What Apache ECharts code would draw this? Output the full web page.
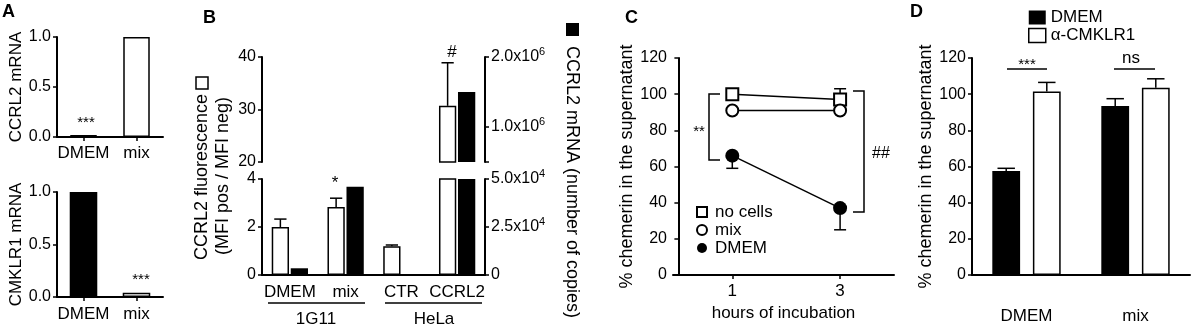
<!DOCTYPE html>
<html>
<head>
<meta charset="utf-8">
<script src="https://cdn.jsdelivr.net/npm/echarts@6/dist/echarts.min.js"></script>
<style>
html, body { margin: 0; padding: 0; background: #fff; }
#chart { width: 1192px; height: 328px; }
</style>
</head>
<body>
<div id="chart"></div>
<script>
// A - relative mRNA
var aCats = ['DMEM', 'mix'];
var aCcrl2 = [0.02, 1.0];
var aCmklr1 = [1.0, 0.04];
// B - CCRL2 fluorescence (left axis) and mRNA copies (right axis)
var bCats = ['DMEM', 'mix', 'CTR', 'CCRL2'];
var bFluo = [2.0, 2.83, 1.2, 30.7];
var bFluoErr = [0.33, 0.37, 0.05, 8.2];
var bMrna = [3500, 46000, 0, 1500000];
// C - chemerin over time
var cHours = [1, 3];
var cNoCells = [100, 97];
var cNoCellsErr = [1, 6];
var cMix = [91, 91];
var cDmem = [66, 37];
var cDmemErr = [7, 12];
// D - chemerin with / without antibody
var dCats = ['DMEM', 'mix'];
var dDmem = [57.5, 93.5];
var dDmemErr = [1.5, 4];
var dAnti = [101.5, 103.5];
var dAntiErr = [5, 5];

var FONT = 'Liberation Sans, Arial, sans-serif';
var BLACK = { color: '#000' };
var WHITE = { color: '#fff', borderColor: '#000', borderWidth: 1.5 };

var myChart = echarts.init(document.getElementById('chart'));

function axisLine() { return { show: true, lineStyle: { color: '#000', width: 2 } }; }
function ticks() { return { show: true, length: 4, lineStyle: { color: '#000', width: 1.5 } }; }
function labels(extra) {
    var o = { color: '#000', fontSize: 16, fontFamily: FONT, margin: 6 };
    for (var k in extra) o[k] = extra[k];
    return o;
}
function sci(v) {
    if (v === 0) return '0';
    var e = Math.floor(Math.log10(v));
    var m = v / Math.pow(10, e);
    return '{a|' + m.toFixed(1) + 'x10}{s|' + e + '}';
}
var sciRich = {
    a: { fontSize: 16, fontFamily: FONT, color: '#000', lineHeight: 22 },
    s: { fontSize: 11, fontFamily: FONT, color: '#000', lineHeight: 11, verticalAlign: 'top' }
};

//误差线
function errorBar(offset, capRatio, capPx) {
    return function (params, api) {
        var base = api.coord([api.value(0), api.value(1)]);
        var end = api.coord([api.value(0), api.value(2)]);
        var band = capPx ? 0 : api.size([1, 0])[0];
        var x = base[0] + offset * band;
        var half = (capPx || capRatio * band) / 2;
        var st = { stroke: '#000', lineWidth: 1.5 };
        return {
            type: 'group',
            children: [
                { type: 'line', shape: { x1: x, y1: base[1], x2: x, y2: end[1] }, style: st },
                { type: 'line', shape: { x1: x - half, y1: end[1], x2: x + half, y2: end[1] }, style: st }
            ]
        };
    };
}

function txt(s, x, y, size, opt) {
    opt = opt || {};
    return {
        type: 'text', x: x, y: y, rotation: opt.rot || 0, z: 10,
        style: {
            text: s, fill: '#000', align: opt.align || 'center', verticalAlign: 'middle',
            font: (opt.bold ? 'bold ' : '') + size + 'px ' + FONT
        }
    };
}
function poly(points) {
    return { type: 'polyline', z: 10, shape: { points: points }, style: { stroke: '#000', lineWidth: 1.5, fill: null } };
}

var bOff = 0.31 * 1.1 / 2;
var dOff = 0.255 * 1.46 / 2;

var option = {
    animation: false,
    grid: [
        { left: 57, top: 37, width: 106, height: 100 },
        { left: 57, top: 192, width: 106, height: 105 },
        { left: 262, top: 57, width: 223, height: 105 },
        { left: 262, top: 179, width: 223, height: 96 },
        { left: 673, top: 58, width: 221, height: 217 },
        { left: 972, top: 58, width: 218, height: 217 }
    ],
    xAxis: [
        { type: 'category', gridIndex: 0, data: aCats, axisLine: axisLine(),
          axisTick: { show: true, alignWithLabel: true, length: 4, lineStyle: { color: '#000', width: 1.5 } },
          axisLabel: labels({ fontSize: 17, margin: 8, interval: 0 }) },
        { type: 'category', gridIndex: 1, data: aCats, axisLine: axisLine(),
          axisTick: { show: true, alignWithLabel: true, length: 4, lineStyle: { color: '#000', width: 1.5 } },
          axisLabel: labels({ fontSize: 17, margin: 9, interval: 0 }) },
        { type: 'category', gridIndex: 2, data: bCats, axisLine: { show: false }, axisTick: { show: false }, axisLabel: { show: false } },
        { type: 'category', gridIndex: 3, data: bCats, axisLine: axisLine(), axisTick: { show: false },
          axisLabel: labels({ fontSize: 17, margin: 9, interval: 0 }) },
        { type: 'value', gridIndex: 4, min: -0.1, max: 4, splitLine: { show: false }, axisLine: axisLine(),
          axisTick: { show: true, length: 4, customValues: cHours, lineStyle: { color: '#000', width: 1.5 } },
          axisLabel: labels({ fontSize: 17, margin: 8, customValues: cHours }),
          name: 'hours of incubation', nameLocation: 'middle', nameGap: 26,
          nameTextStyle: { color: '#000', fontSize: 17, fontFamily: FONT } },
        { type: 'category', gridIndex: 5, data: dCats, axisLine: axisLine(), axisTick: { show: false },
          axisLabel: labels({ fontSize: 17, margin: 33, interval: 0 }) }
    ],
    yAxis: [
        { type: 'value', gridIndex: 0, min: 0, max: 1, interval: 0.5, splitLine: { show: false },
          axisLine: axisLine(), axisTick: ticks(),
          axisLabel: labels({ formatter: function (v) { return v.toFixed(1); } }),
          name: 'CCRL2 mRNA', nameLocation: 'middle', nameGap: 29,
          nameTextStyle: { color: '#000', fontSize: 17, fontFamily: FONT } },
        { type: 'value', gridIndex: 1, min: 0, max: 1, interval: 0.5, splitLine: { show: false },
          axisLine: axisLine(), axisTick: ticks(),
          axisLabel: labels({ formatter: function (v) { return v.toFixed(1); } }),
          name: 'CMKLR1 mRNA', nameLocation: 'middle', nameGap: 29,
          nameTextStyle: { color: '#000', fontSize: 17, fontFamily: FONT } },
        { type: 'value', gridIndex: 2, min: 20, max: 40, interval: 10, splitLine: { show: false },
          axisLine: axisLine(), axisTick: ticks(), axisLabel: labels({}) },
        { type: 'value', gridIndex: 2, position: 'right', min: 500000, max: 2000000, interval: 500000,
          splitLine: { show: false }, axisLine: axisLine(),
          axisTick: { show: true, length: 4, customValues: [500000, 1000000, 2000000], lineStyle: { color: '#000', width: 1.5 } },
          axisLabel: labels({ customValues: [1000000, 2000000], formatter: sci, rich: sciRich }) },
        { type: 'value', gridIndex: 3, min: 0, max: 4, interval: 2, splitLine: { show: false },
          axisLine: axisLine(), axisTick: ticks(), axisLabel: labels({}) },
        { type: 'value', gridIndex: 3, position: 'right', min: 0, max: 50000, interval: 25000,
          splitLine: { show: false }, axisLine: axisLine(), axisTick: ticks(),
          axisLabel: labels({ formatter: sci, rich: sciRich }) },
        { type: 'value', gridIndex: 4, min: 0, max: 120, interval: 20, splitLine: { show: false },
          axisLine: axisLine(), axisTick: ticks(), axisLabel: labels({}),
          name: '% chemerin in the supernatant', nameLocation: 'middle', nameGap: 28,
          nameTextStyle: { color: '#000', fontSize: 18, fontFamily: FONT } },
        { type: 'value', gridIndex: 5, min: 0, max: 120, interval: 20, splitLine: { show: false },
          axisLine: axisLine(), axisTick: ticks(), axisLabel: labels({}),
          name: '% chemerin in the supernatant', nameLocation: 'middle', nameGap: 32,
          nameTextStyle: { color: '#000', fontSize: 18, fontFamily: FONT } }
    ],
    legend: [
        { left: 691, top: 198, orient: 'vertical', itemWidth: 10, itemHeight: 10, itemGap: 0, selectedMode: false,
          textStyle: { color: '#000', fontSize: 17, fontFamily: FONT, lineHeight: 18, padding: [0, 0, 0, 3] },
          data: [
              { name: 'no cells', icon: 'rect', itemStyle: { color: '#fff', borderColor: '#000', borderWidth: 2 } },
              { name: 'mix', icon: 'circle', itemStyle: { color: '#fff', borderColor: '#000', borderWidth: 2 } },
              { name: 'DMEM', icon: 'circle', itemStyle: { color: '#000' } }
          ] },
        { left: 1023, top: 4, orient: 'vertical', itemWidth: 17, itemHeight: 14, itemGap: 1, selectedMode: false,
          textStyle: { color: '#000', fontSize: 17, fontFamily: FONT, lineHeight: 16 },
          data: [
              { name: 'DMEM', icon: 'rect', itemStyle: { color: '#000' } },
              { name: 'α-CMKLR1', icon: 'rect', itemStyle: { color: '#fff', borderColor: '#000', borderWidth: 1.5 } }
          ] }
    ],
    series: [
        // A
        { type: 'bar', name: 'A CCRL2', xAxisIndex: 0, yAxisIndex: 0, barWidth: '50%',
          data: aCcrl2.map(function (v, i) { return { value: v, itemStyle: i === 0 ? BLACK : WHITE }; }) },
        { type: 'bar', name: 'A CMKLR1', xAxisIndex: 1, yAxisIndex: 1, barWidth: '52%',
          data: aCmklr1.map(function (v, i) { return { value: v, itemStyle: i === 0 ? BLACK : WHITE }; }) },
        // B upper part of broken axis
        { type: 'bar', name: 'B fluo hi', xAxisIndex: 2, yAxisIndex: 2, barWidth: '31%', barGap: '10%', itemStyle: WHITE,
          data: bFluo.map(function (v) { return v > 20 ? v : '-'; }) },
        { type: 'bar', name: 'B mrna hi', xAxisIndex: 2, yAxisIndex: 3, barWidth: '31%', barGap: '10%', itemStyle: BLACK,
          data: bMrna.map(function (v) { return v > 500000 ? v : '-'; }) },
        { type: 'custom', name: 'B err hi', xAxisIndex: 2, yAxisIndex: 2, z: 3, renderItem: errorBar(-bOff, 0.22),
          data: bFluo.map(function (v, i) { return [i, v, v + bFluoErr[i]]; }).filter(function (d) { return d[1] > 20; }) },
        // B lower part
        { type: 'bar', name: 'B fluo', xAxisIndex: 3, yAxisIndex: 4, barWidth: '31%', barGap: '10%', itemStyle: WHITE,
          data: bFluo },
        { type: 'bar', name: 'B mrna', xAxisIndex: 3, yAxisIndex: 5, barWidth: '31%', barGap: '10%', itemStyle: BLACK,
          data: bMrna },
        { type: 'custom', name: 'B err', xAxisIndex: 3, yAxisIndex: 4, z: 3, renderItem: errorBar(-bOff, 0.22),
          data: bFluo.map(function (v, i) { return [i, v, v + bFluoErr[i]]; }).filter(function (d) { return d[2] < 4; }) },
        // C
        { type: 'custom', name: 'C err', xAxisIndex: 4, yAxisIndex: 6, z: 1, renderItem: errorBar(0, 0, 12),
          data: cHours.map(function (h, i) { return [h, cNoCells[i], cNoCells[i] + cNoCellsErr[i]]; })
              .concat(cHours.map(function (h, i) { return [h, cDmem[i], cDmem[i] - cDmemErr[i]]; })) },
        { type: 'line', name: 'no cells', xAxisIndex: 4, yAxisIndex: 6, z: 2, symbol: 'rect', symbolSize: 12,
          itemStyle: { color: '#fff', borderColor: '#000', borderWidth: 2 }, lineStyle: { color: '#000', width: 1.5 },
          data: cHours.map(function (h, i) { return [h, cNoCells[i]]; }) },
        { type: 'line', name: 'mix', xAxisIndex: 4, yAxisIndex: 6, z: 2, symbol: 'circle', symbolSize: 12,
          itemStyle: { color: '#fff', borderColor: '#000', borderWidth: 2 }, lineStyle: { color: '#000', width: 1.5 },
          data: cHours.map(function (h, i) { return [h, cMix[i]]; }) },
        { type: 'line', name: 'DMEM', xAxisIndex: 4, yAxisIndex: 6, z: 2, symbol: 'circle', symbolSize: 14,
          itemStyle: { color: '#000' }, lineStyle: { color: '#000', width: 1.5 },
          data: cHours.map(function (h, i) { return [h, cDmem[i]]; }) },
        // D
        { type: 'bar', name: 'DMEM', xAxisIndex: 5, yAxisIndex: 7, barWidth: '25.5%', barGap: '46%', itemStyle: BLACK,
          data: dDmem },
        { type: 'bar', name: 'α-CMKLR1', xAxisIndex: 5, yAxisIndex: 7, barWidth: '25.5%', barGap: '46%', itemStyle: WHITE,
          data: dAnti },
        { type: 'custom', name: 'D err1', xAxisIndex: 5, yAxisIndex: 7, z: 3, renderItem: errorBar(-dOff, 0.16),
          data: dDmem.map(function (v, i) { return [i, v, v + dDmemErr[i]]; }) },
        { type: 'custom', name: 'D err2', xAxisIndex: 5, yAxisIndex: 7, z: 3, renderItem: errorBar(dOff, 0.16),
          data: dAnti.map(function (v, i) { return [i, v, v + dAntiErr[i]]; }) }
    ],
    graphic: [
        txt('A', 2, 12, 18, { bold: true, align: 'left' }),
        txt('B', 203, 18, 18, { bold: true, align: 'left' }),
        txt('C', 625, 18, 18, { bold: true, align: 'left' }),
        txt('D', 910, 12, 18, { bold: true, align: 'left' }),
        txt('***', 86, 123, 15),
        txt('***', 141, 280, 15),
        txt('*', 335, 183, 17),
        txt('#', 452, 52, 17),
        // B axis names
        txt('CCRL2 fluorescence', 202, 177, 18, { rot: Math.PI / 2 }),
        txt('(MFI pos / MFI neg)', 223, 176, 18, { rot: Math.PI / 2 }),
        { type: 'rect', z: 10, shape: { x: 196, y: 77, width: 12, height: 12 }, style: { fill: '#fff', stroke: '#000', lineWidth: 1.5 } },
        txt('CCRL2 mRNA (number of copies)', 572, 182, 18, { rot: -Math.PI / 2 }),
        { type: 'rect', z: 10, shape: { x: 566, y: 23, width: 13, height: 13 }, style: { fill: '#000' } },
        // B groups
        { type: 'line', z: 10, shape: { x1: 268, y1: 303, x2: 365, y2: 303 }, style: { stroke: '#000', lineWidth: 1.5 } },
        { type: 'line', z: 10, shape: { x1: 385, y1: 303, x2: 482, y2: 303 }, style: { stroke: '#000', lineWidth: 1.5 } },
        txt('1G11', 316, 319, 17),
        txt('HeLa', 434, 319, 17),
        // C brackets
        poly([[720, 94], [709, 94], [709, 160], [720, 160]]),
        poly([[853, 91], [864, 91], [864, 212], [853, 212]]),
        txt('**', 699, 132, 15),
        txt('##', 881, 154, 16),
        // D significance
        { type: 'line', z: 10, shape: { x1: 1007, y1: 69, x2: 1047, y2: 69 }, style: { stroke: '#000', lineWidth: 1.5 } },
        { type: 'line', z: 10, shape: { x1: 1114, y1: 69, x2: 1155, y2: 69 }, style: { stroke: '#000', lineWidth: 1.5 } },
        txt('***', 1027, 65, 15),
        txt('ns', 1131, 58, 17)
    ]
};
myChart.setOption(option);
</script>
</body>
</html>
